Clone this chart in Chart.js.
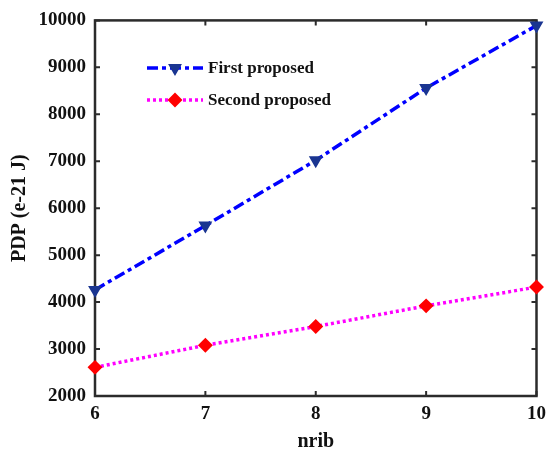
<!DOCTYPE html>
<html>
<head>
<meta charset="utf-8">
<script src="https://cdn.jsdelivr.net/npm/chart.js@4"></script>
<style>
  html, body { margin: 0; padding: 0; background: #fff; }
  #wrap { width: 553px; height: 452px; }
</style>
</head>
<body>
<div id="wrap"><canvas id="pdp-chart"></canvas></div>
<script>
// Data
const nribValues = [6, 7, 8, 9, 10];
const firstProposed = [4260, 5630, 7020, 8560, 9890];
const secondProposed = [2610, 3080, 3480, 3920, 4320];
const seriesNames = ['First proposed', 'Second proposed'];
const yTicks = [2000, 3000, 4000, 5000, 6000, 7000, 8000, 9000, 10000];

const serif = "'Liberation Serif', 'Times New Roman', serif";
const axisColor = '#2b2b2b';

function toPoints(values) {
  return nribValues.map((x, i) => ({ x: x, y: values[i] }));
}

// Frame with inward ticks on all four sides
const framePlugin = {
  id: 'frame',
  beforeDatasetsDraw(chart) {
    const { ctx, chartArea: a, scales } = chart;
    ctx.save();
    ctx.strokeStyle = axisColor;
    ctx.lineWidth = 2.5;
    ctx.strokeRect(a.left, a.top, a.right - a.left, a.bottom - a.top);
    ctx.lineWidth = 2;
    const len = 5;
    nribValues.forEach(v => {
      const px = scales.x.getPixelForValue(v);
      ctx.beginPath();
      ctx.moveTo(px, a.bottom); ctx.lineTo(px, a.bottom - len);
      ctx.moveTo(px, a.top); ctx.lineTo(px, a.top + len);
      ctx.stroke();
    });
    yTicks.forEach(v => {
      const py = scales.y.getPixelForValue(v);
      ctx.beginPath();
      ctx.moveTo(a.left, py); ctx.lineTo(a.left + len, py);
      ctx.moveTo(a.right, py); ctx.lineTo(a.right - len, py);
      ctx.stroke();
    });
    ctx.restore();
  }
};

// Legend drawn inside the plot, upper left
const insideLegend = {
  id: 'insideLegend',
  afterDraw(chart) {
    const { ctx } = chart;
    const rows = [68, 100];
    ctx.save();
    chart.data.datasets.forEach((ds, i) => {
      const y = rows[i];
      ctx.strokeStyle = ds.borderColor;
      ctx.lineWidth = ds.borderWidth;
      ctx.setLineDash(ds.borderDash || []);
      ctx.beginPath();
      ctx.moveTo(147, y);
      ctx.lineTo(203, y);
      ctx.stroke();
      ctx.setLineDash([]);
      ctx.fillStyle = ds.pointBackgroundColor;
      ctx.strokeStyle = ds.pointBorderColor;
      Chart.helpers.drawPoint(ctx, {
        pointStyle: ds.pointStyle,
        radius: ds.pointRadius,
        rotation: ds.pointRotation || 0,
        borderWidth: 1
      }, 175, y);
      ctx.fillStyle = '#111';
      ctx.font = 'bold 17px ' + serif;
      ctx.textBaseline = 'middle';
      ctx.textAlign = 'left';
      ctx.fillText(ds.label, 208, y + 1);
    });
    ctx.restore();
  }
};

new Chart(document.getElementById('pdp-chart'), {
  type: 'line',
  data: {
    datasets: [
      {
        label: seriesNames[0],
        data: toPoints(firstProposed),
        borderColor: '#0000ff',
        borderWidth: 3.5,
        borderDash: [11, 4, 4, 4],
        pointStyle: 'triangle',
        pointRotation: 180,
        pointRadius: 4.5,
        pointBackgroundColor: '#1a3591',
        pointBorderColor: '#1a3591',
        clip: false
      },
      {
        label: seriesNames[1],
        data: toPoints(secondProposed),
        borderColor: '#ff00ff',
        borderWidth: 3.5,
        borderDash: [3, 3],
        pointStyle: 'rectRot',
        pointRadius: 5,
        pointBackgroundColor: '#ff0000',
        pointBorderColor: '#ff0000',
        clip: false
      }
    ]
  },
  options: {
    responsive: true,
    maintainAspectRatio: false,
    animation: false,
    layout: { padding: { top: 17, right: 9, left: 0, bottom: 0 } },
    plugins: {
      legend: { display: false },
      tooltip: { enabled: false }
    },
    scales: {
      x: {
        type: 'linear',
        min: 6,
        max: 10,
        afterFit: s => { s.height = 56; },
        afterBuildTicks: s => { s.ticks = nribValues.map(v => ({ value: v })); },
        grid: { display: false, drawTicks: false },
        border: { display: false },
        ticks: {
          padding: 7,
          color: '#111',
          maxRotation: 0,
          callback: v => String(v),
          font: { family: serif, size: 19, weight: 'bold' }
        },
        title: {
          display: true,
          text: 'nrib',
          color: '#111',
          padding: { top: 0, bottom: 0 },
          font: { family: serif, size: 20, weight: 'bold', lineHeight: 1 }
        }
      },
      y: {
        min: 2000,
        max: 10000,
        afterFit: s => { s.width = 95; },
        afterBuildTicks: s => { s.ticks = yTicks.map(v => ({ value: v })); },
        grid: { display: false, drawTicks: false },
        border: { display: false },
        ticks: {
          padding: 9,
          color: '#111',
          callback: v => String(v),
          font: { family: serif, size: 19, weight: 'bold' }
        },
        title: {
          display: true,
          text: 'PDP (e-21 J)',
          color: '#111',
          padding: { top: 10, bottom: 0 },
          font: { family: serif, size: 20, weight: 'bold', lineHeight: 1 }
        }
      }
    }
  },
  plugins: [framePlugin, insideLegend]
});
</script>
</body>
</html>
